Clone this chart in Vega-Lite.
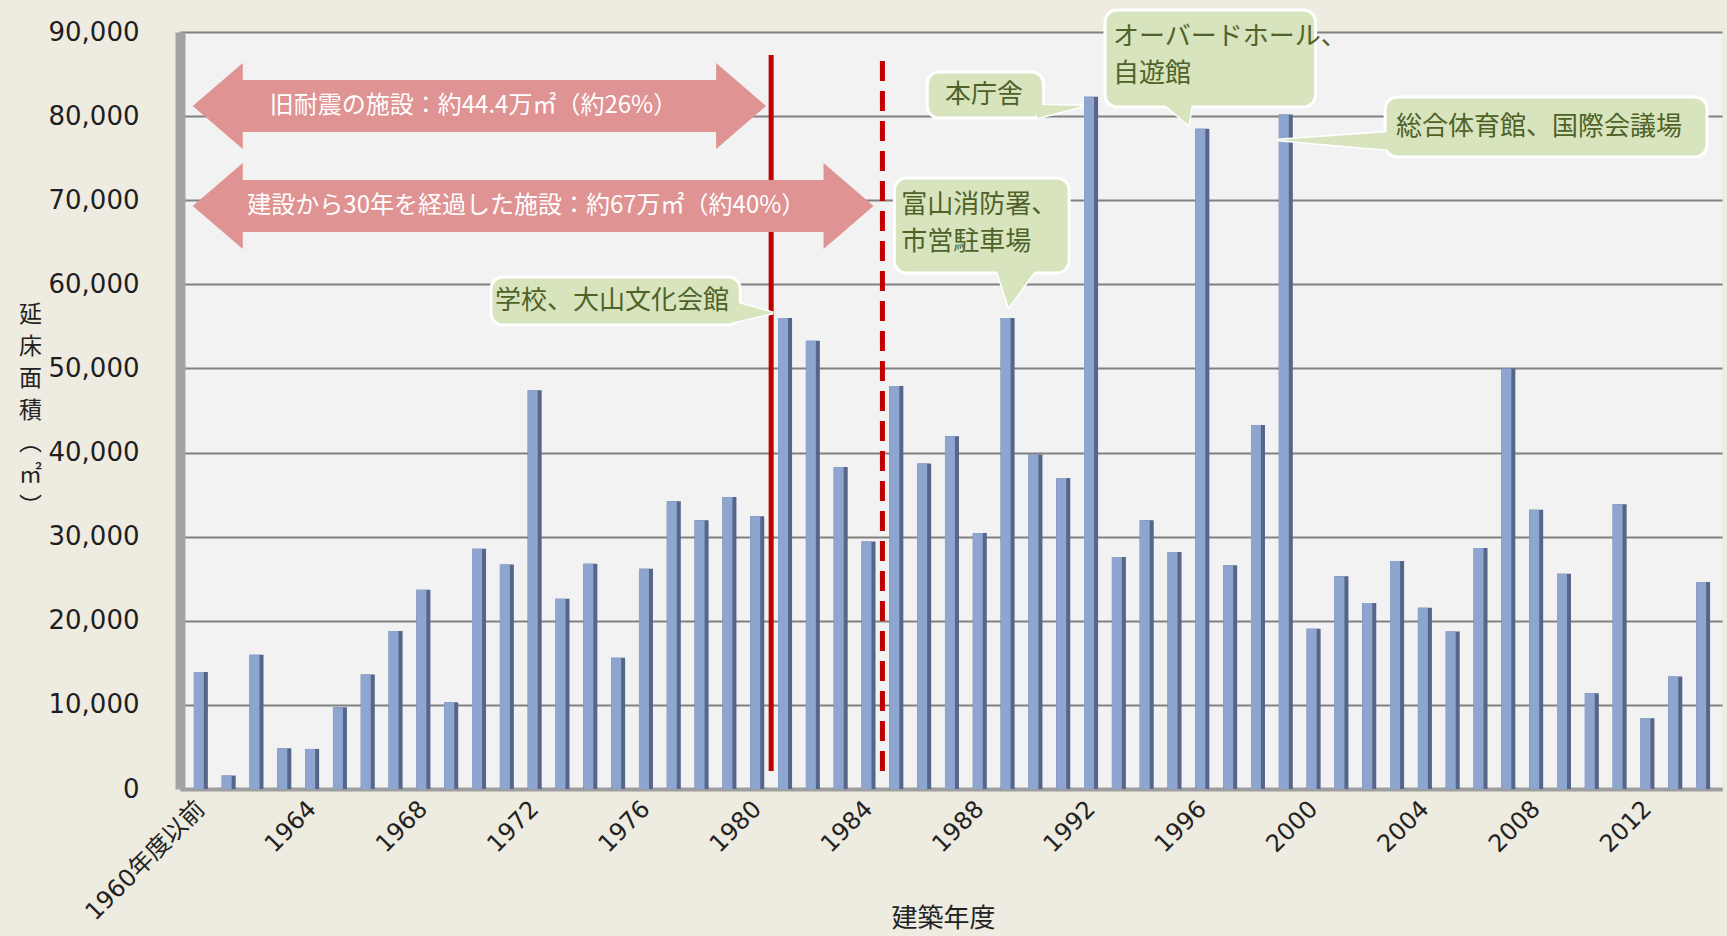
{
  "$schema": "https://vega.github.io/schema/vega-lite/v6.json",
  "autosize": {"type": "none"},
  "width": 1542,
  "height": 757,
  "padding": {"left": 180, "top": 32, "right": 5, "bottom": 147},
  "background": "#EEEBE1",
  "config": {"view": {"fill": "#F2F2F2", "stroke": null}, "font": "DejaVu Sans"},
  "datasets": {
    "bars": [
      {"year": 1960, "area": 13900}, {"year": 1961, "area": 1600}, {"year": 1962, "area": 15950},
      {"year": 1963, "area": 4840}, {"year": 1964, "area": 4760}, {"year": 1965, "area": 9720},
      {"year": 1966, "area": 13600}, {"year": 1967, "area": 18770}, {"year": 1968, "area": 23700},
      {"year": 1969, "area": 10300}, {"year": 1970, "area": 28570}, {"year": 1971, "area": 26700},
      {"year": 1972, "area": 47400}, {"year": 1973, "area": 22620}, {"year": 1974, "area": 26790},
      {"year": 1975, "area": 15600}, {"year": 1976, "area": 26190}, {"year": 1977, "area": 34200},
      {"year": 1978, "area": 31940}, {"year": 1979, "area": 34720}, {"year": 1980, "area": 32420},
      {"year": 1981, "area": 56000}, {"year": 1982, "area": 53300}, {"year": 1983, "area": 38290},
      {"year": 1984, "area": 29440}, {"year": 1985, "area": 47900}, {"year": 1986, "area": 38690},
      {"year": 1987, "area": 41950}, {"year": 1988, "area": 30440}, {"year": 1989, "area": 56000},
      {"year": 1990, "area": 39760}, {"year": 1991, "area": 36980}, {"year": 1992, "area": 82300},
      {"year": 1993, "area": 27580}, {"year": 1994, "area": 31940}, {"year": 1995, "area": 28170},
      {"year": 1996, "area": 78500}, {"year": 1997, "area": 26590}, {"year": 1998, "area": 43270},
      {"year": 1999, "area": 80200}, {"year": 2000, "area": 19050}, {"year": 2001, "area": 25280},
      {"year": 2002, "area": 22100}, {"year": 2003, "area": 27100}, {"year": 2004, "area": 21550},
      {"year": 2005, "area": 18730}, {"year": 2006, "area": 28650}, {"year": 2007, "area": 50000},
      {"year": 2008, "area": 33210}, {"year": 2009, "area": 25600}, {"year": 2010, "area": 11390},
      {"year": 2011, "area": 33850}, {"year": 2012, "area": 8410}, {"year": 2013, "area": 13370},
      {"year": 2014, "area": 24600}
    ],
    "lines": [
      {"kind": "solid", "x": 1980.5, "y1": 2140, "y2": 87270},
      {"kind": "dashed", "x": 1984.5, "y1": 2140, "y2": 87270}
    ],
    "arrows": [
      {"label": "旧耐震の施設：約44.4万㎡（約26%）", "tipL": 1959.71, "tipR": 1980.32, "b1": 1961.4, "b2": 1978.6, "y": 81200, "tx": 1969.8},
      {"label": "建設から30年を経過した施設：約67万㎡（約40%）", "tipL": 1959.71, "tipR": 1984.18, "b1": 1961.4, "b2": 1982.45, "y": 69300, "tx": 1971.7}
    ],
    "notes": [
      {"label": "学校、大山文化会館", "x1": 1970.43, "x2": 1979.39, "y1": 55170, "y2": 60880, "tx": 1970.57, "ty": 58020, "px": 1980.57, "py": 56600, "ptr": "p1"},
      {"label": "富山消防署、\n市営駐車場", "x1": 1984.93, "x2": 1991.21, "y1": 61350, "y2": 72650, "tx": 1985.18, "ty": 69440, "px": 1989.04, "py": 57310, "ptr": "p2"},
      {"label": "本庁舎", "x1": 1986.11, "x2": 1990.29, "y1": 79780, "y2": 85250, "tx": 1986.75, "ty": 82520, "px": 1991.71, "py": 81210, "ptr": "p3"},
      {"label": "オーバードホール、\n自遊館", "x1": 1992.5, "x2": 2000.07, "y1": 81090, "y2": 92620, "tx": 1992.79, "ty": 89350, "px": 1995.5, "py": 78950, "ptr": "p4"},
      {"label": "総合体育館、国際会議場", "x1": 2002.57, "x2": 2014.14, "y1": 75150, "y2": 82280, "tx": 2002.96, "ty": 78710, "px": 1998.71, "py": 77170, "ptr": "p5"}
    ]
  },
  "layer": [
    {
      "data": {"name": "bars"},
      "mark": {"type": "bar", "width": 14, "color": "#56658A"},
      "encoding": {
        "x": {
          "field": "year", "type": "quantitative",
          "scale": {"domain": [1959.43, 2014.5], "nice": false, "zero": false},
          "axis": {
            "values": [1960, 1964, 1968, 1972, 1976, 1980, 1984, 1988, 1992, 1996, 2000, 2004, 2008, 2012],
            "format": "d",
            "labelExpr": "datum.value == 1960 ? '1960年度以前' : datum.label",
            "labelAngle": -45, "labelAlign": "right", "labelBaseline": "middle",
            "ticks": false, "tickSize": 0, "labelPadding": 16,
            "labelFont": "DejaVu Sans, Noto Sans CJK JP", "labelFontSize": 24, "labelColor": "#222222",
            "labelOverlap": false, "labelBound": false, "labelFlush": false,
            "grid": false, "domainColor": "#9E9E9E", "domainWidth": 4,
            "title": "建築年度", "titleFont": "Noto Sans CJK JP", "titleFontSize": 26, "titleFontWeight": "normal",
            "titleColor": "#222222", "titleX": 763, "titleY": 129, "titleAlign": "center", "titleBaseline": "middle"
          }
        },
        "y": {
          "field": "area", "type": "quantitative",
          "scale": {"domain": [0, 90000], "nice": false},
          "axis": {
            "values": [0, 10000, 20000, 30000, 40000, 50000, 60000, 70000, 80000, 90000],
            "format": ",d", "ticks": false, "tickSize": 0, "labelPadding": 41,
            "labelFont": "DejaVu Sans", "labelFontSize": 26, "labelColor": "#1E1E1E",
            "labelFlush": false, "labelBound": false,
            "grid": true, "gridColor": "#808080", "gridWidth": 2,
            "domainColor": "#A3A3A3", "domainWidth": 10,
            "title": ["延", "床", "面", "積", "︵", "㎡", "︶"],
            "titleAngle": 0, "titleFont": "Noto Sans CJK JP", "titleFontSize": 23, "titleFontWeight": "normal",
            "titleColor": "#222222", "titleLineHeight": 32, "titleX": -150, "titleY": 282,
            "titleAlign": "center", "titleBaseline": "middle"
          }
        }
      }
    },
    {
      "data": {"name": "bars"},
      "mark": {"type": "bar", "width": 10, "xOffset": -2, "color": "#8EA5CF"},
      "encoding": {
        "x": {"field": "year", "type": "quantitative"},
        "y": {"field": "area", "type": "quantitative"}
      }
    },
    {
      "data": {"name": "lines"},
      "mark": {"type": "rule", "color": "#C00000", "strokeWidth": 5},
      "encoding": {
        "x": {"field": "x", "type": "quantitative"},
        "y": {"field": "y1", "type": "quantitative"},
        "y2": {"field": "y2"},
        "strokeDash": {"field": "kind", "type": "nominal", "scale": {"domain": ["solid", "dashed"], "range": [[1, 0], [20, 10]]}, "legend": null}
      }
    },
    {
      "data": {"name": "arrows"},
      "mark": {"type": "rule", "color": "#DF9393", "strokeWidth": 52, "strokeCap": "butt"},
      "encoding": {
        "x": {"field": "b1", "type": "quantitative"},
        "x2": {"field": "b2"},
        "y": {"field": "y", "type": "quantitative"}
      }
    },
    {
      "data": {"name": "arrows"},
      "mark": {"type": "point", "shape": "M0,0L50,-43L50,43Z", "size": 4, "filled": true, "opacity": 1, "color": "#DF9393"},
      "encoding": {
        "x": {"field": "tipL", "type": "quantitative"},
        "y": {"field": "y", "type": "quantitative"}
      }
    },
    {
      "data": {"name": "arrows"},
      "mark": {"type": "point", "shape": "M0,0L-50,-43L-50,43Z", "size": 4, "filled": true, "opacity": 1, "color": "#DF9393"},
      "encoding": {
        "x": {"field": "tipR", "type": "quantitative"},
        "y": {"field": "y", "type": "quantitative"}
      }
    },
    {
      "data": {"name": "arrows"},
      "mark": {"type": "text", "font": "Noto Sans CJK JP", "fontSize": 24, "color": "#FFFFFF", "align": "center", "baseline": "middle"},
      "encoding": {
        "x": {"field": "tx", "type": "quantitative"},
        "y": {"field": "y", "type": "quantitative"},
        "text": {"field": "label"}
      }
    },
    {
      "data": {"name": "notes"},
      "mark": {"type": "point", "size": 4, "filled": true, "opacity": 1, "fill": "#D7E4BD", "stroke": "#FFFFFF", "strokeWidth": 3},
      "encoding": {
        "x": {"field": "px", "type": "quantitative"},
        "y": {"field": "py", "type": "quantitative"},
        "shape": {"field": "ptr", "type": "nominal", "legend": null, "scale": {"domain": ["p1", "p2", "p3", "p4", "p5"], "range": ["M0,0L-39,-11L-39,9Z", "M0,0L-13,-40L29,-40Z", "M0,0L-46,-1L-46,12Z", "M0,0L-28,-24L4,-24Z", "M0,0L114,-8L114,10Z"]}}
      }
    },
    {
      "data": {"name": "notes"},
      "mark": {"type": "rect", "fill": "#D7E4BD", "stroke": "#FFFFFF", "strokeWidth": 3, "cornerRadius": 12},
      "encoding": {
        "x": {"field": "x1", "type": "quantitative"},
        "x2": {"field": "x2"},
        "y": {"field": "y1", "type": "quantitative"},
        "y2": {"field": "y2"}
      }
    },
    {
      "data": {"name": "notes"},
      "mark": {"type": "point", "size": 4, "filled": true, "opacity": 1, "fill": "#D7E4BD", "strokeWidth": 0},
      "encoding": {
        "x": {"field": "px", "type": "quantitative"},
        "y": {"field": "py", "type": "quantitative"},
        "shape": {"field": "ptr", "type": "nominal", "legend": null, "scale": {"domain": ["p1", "p2", "p3", "p4", "p5"], "range": ["M0,0L-39,-11L-39,9Z", "M0,0L-13,-40L29,-40Z", "M0,0L-46,-1L-46,12Z", "M0,0L-28,-24L4,-24Z", "M0,0L114,-8L114,10Z"]}}
      }
    },
    {
      "data": {"name": "notes"},
      "mark": {"type": "text", "font": "Noto Sans CJK JP", "fontSize": 26, "color": "#4F6228", "align": "left", "baseline": "middle", "lineBreak": "\n", "lineHeight": 37},
      "encoding": {
        "x": {"field": "tx", "type": "quantitative"},
        "y": {"field": "ty", "type": "quantitative"},
        "text": {"field": "label"}
      }
    }
  ]
}
